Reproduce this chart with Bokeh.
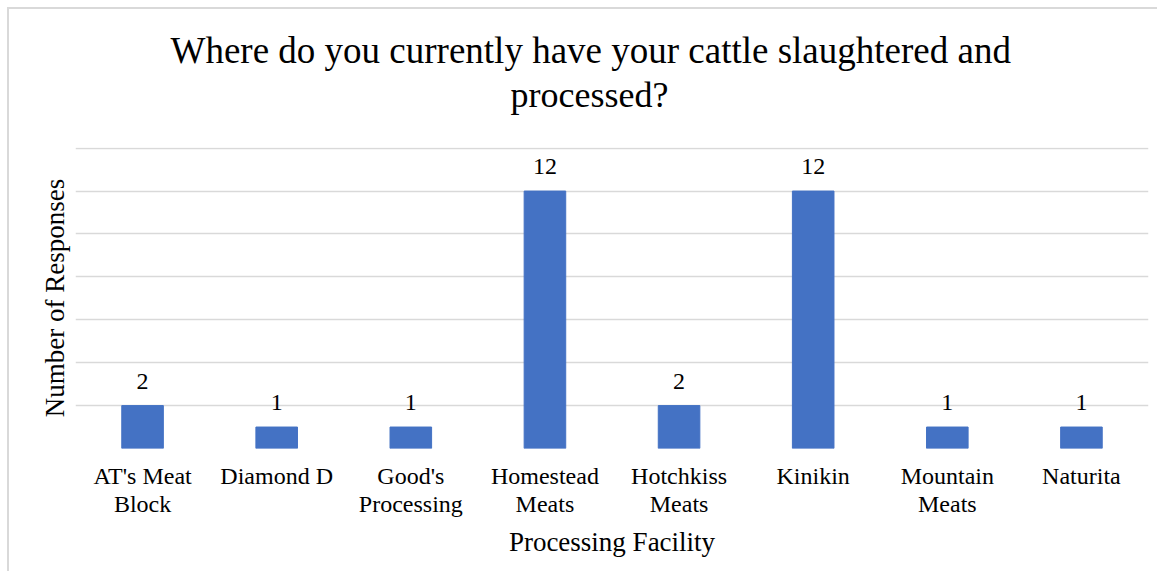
from bokeh.plotting import figure
from bokeh.models import ColumnDataSource, Range1d, FixedTicker, Title, LabelSet
from bokeh.embed import file_html
from bokeh.resources import INLINE

# ---- data ----
facilities = ["AT's Meat\nBlock", "Diamond D", "Good's\nProcessing", "Homestead\nMeats",
              "Hotchkiss\nMeats", "Kinikin", "Mountain\nMeats", "Naturita"]
responses = [2, 1, 1, 12, 2, 12, 1, 1]
y_ticks = [0, 2, 4, 6, 8, 10, 12, 14]
title_lines = ["Where do you currently have your cattle slaughtered and", "processed?"]
x_title = "Processing Facility"
y_title = "Number of Responses"

FONT = "Liberation Serif"
BAR = "#4472C4"
GRID = "#d9d9d9"

source = ColumnDataSource(dict(cat=facilities, val=responses,
                               lbl=[str(v) for v in responses]))

p = figure(x_range=facilities, y_range=Range1d(0, 14.03),
           width=1150, height=564, output_backend="svg", toolbar_location=None,
           min_border_left=66, min_border_right=11, min_border_top=138, min_border_bottom=125)
p.styles = {"border-top": f"2px solid {GRID}", "border-left": f"2px solid {GRID}",
            "margin-left": "7px", "margin-top": "7px"}
p.outline_line_color = None
p.background_fill_color = "white"
p.border_fill_color = "white"

p.vbar(x="cat", top="val", width=0.31, source=source, fill_color=BAR, line_color=BAR)
p.add_layout(LabelSet(x="cat", y="val", text="lbl", source=source, text_align="center",
                      text_baseline="alphabetic", y_offset=17, text_font=FONT,
                      text_font_style="normal", text_font_size="24px", text_color="#000000"))

# grid
p.xgrid.grid_line_color = None
p.yaxis.ticker = FixedTicker(ticks=y_ticks)
p.ygrid.grid_line_color = GRID
p.ygrid.grid_line_width = 1.5

# x axis
xa = p.xaxis[0]
xa.axis_line_color = None
xa.major_tick_line_color = None
xa.minor_tick_line_color = None
xa.major_label_text_font = FONT
xa.major_label_text_font_style = "normal"
xa.major_label_text_font_size = "24px"
xa.major_label_text_line_height = 1.1
xa.major_label_text_color = "#000000"
xa.major_label_standoff = 8
xa.axis_label = x_title
xa.axis_label_text_font = FONT
xa.axis_label_text_font_size = "27px"
xa.axis_label_text_font_style = "normal"
xa.axis_label_text_color = "#000000"
xa.axis_label_standoff = 7

# y axis
ya = p.yaxis[0]
ya.axis_line_color = None
ya.major_tick_line_color = None
ya.minor_tick_line_color = None
ya.major_tick_out = 0
ya.major_label_text_font_size = "0px"
ya.major_label_standoff = 0
ya.axis_label = y_title
ya.axis_label_text_font = FONT
ya.axis_label_text_font_size = "27px"
ya.axis_label_text_font_style = "normal"
ya.axis_label_text_color = "#000000"
ya.axis_label_standoff = 6

# title: spacer nearest the frame, then the two lines
p.add_layout(Title(text=" ", text_font_size="1px", standoff=30), "above")
p.add_layout(Title(text=title_lines[1], align="left", offset=435, text_font=FONT,
                   text_font_size="36px", text_font_style="normal", text_color="#000000",
                   standoff=0), "above")
p.add_layout(Title(text=title_lines[0], align="left", offset=95, text_font=FONT,
                   text_font_size="37px", text_font_style="normal", text_color="#000000",
                   standoff=4), "above")

open("out.html", "w").write(file_html(p, INLINE))
